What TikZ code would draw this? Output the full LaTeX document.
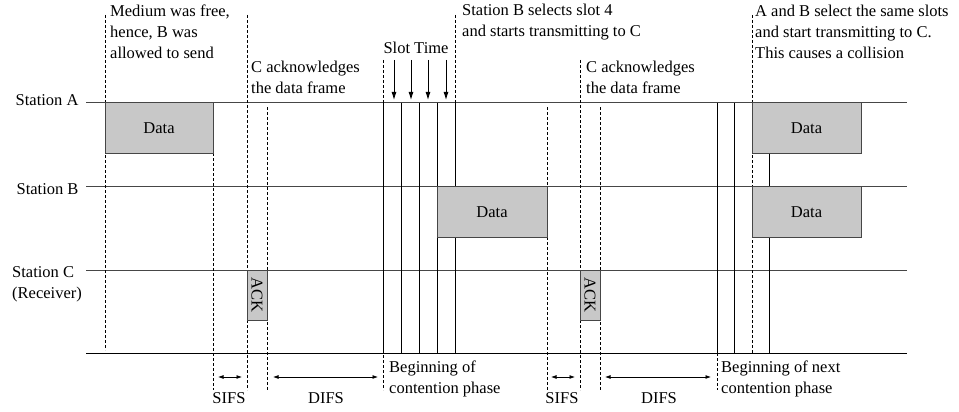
\documentclass[tikz,border=0pt]{standalone}
\usepackage{fontspec}
\setmainfont{Liberation Serif}
\usepackage{tikz}
\usetikzlibrary{arrows.meta, positioning}
\definecolor{framegray}{RGB}{200, 200, 200}
\definecolor{linegray}{RGB}{70, 70, 70}
\tikzstyle{frame} = [rectangle, draw=linegray, fill=framegray, line width=1pt, inner sep=0pt]
\tikzstyle{timeline} = [draw=linegray, line width=1pt]
\tikzstyle{guide} = [draw=black, line width=0.8pt, dash pattern=on 3pt off 2pt]
\tikzstyle{slotline} = [draw=black, line width=0.9pt]
\tikzstyle{note} = [align=left, anchor=north west, inner sep=0pt]
\tikzstyle{caption} = [anchor=north, inner sep=0pt]
\tikzstyle{span} = [{Latex[length=5.5pt,width=4pt]}-{Latex[length=5.5pt,width=4pt]}, line width=0.8pt]
\tikzstyle{slotarrow} = [-{Latex[length=8pt,width=5pt]}, line width=0.9pt]

\begin{document}
\begin{tikzpicture}[x=1pt, y=-1pt, font=\fontsize{16.5}{21}\selectfont]
    \useasboundingbox (0,0) rectangle (959,412);

    % Stations
    \node[anchor=east] (staA) at (82, 100.5) {Station A};
    \node[anchor=east] (staB) at (82, 189) {Station B};
    \node[note] (staC) at (12, 266) {Station C\\(Receiver)};

    % Time lines
    \draw[timeline] (86, 102.5) -- (907, 102.5);
    \draw[timeline] (86, 186.5) -- (907, 186.5);
    \draw[timeline] (86, 270) -- (907, 270);
    \draw[timeline, draw=black] (86, 353) -- (907, 353);

    % First transmission
    \draw[guide] (105, 15) -- (105, 350);
    \draw[guide] (213, 153) -- (213, 390);
    \draw[guide] (247, 15) -- (247, 390);
    \draw[guide] (267, 107) -- (267, 390);

    % Contention slots
    \draw[guide] (383, 60) -- (383, 390);
    \draw[guide] (455, 15) -- (455, 102.5);
    \draw[slotline] (383, 102.5) -- (383, 353);
    \draw[slotline] (401, 102.5) -- (401, 353);
    \draw[slotline] (419, 102.5) -- (419, 353);
    \draw[slotline] (437, 102.5) -- (437, 353);
    \draw[slotline] (455, 102.5) -- (455, 353);
    \draw[slotarrow] (394, 60) -- (394, 100);
    \draw[slotarrow] (411, 60) -- (411, 100);
    \draw[slotarrow] (428, 60) -- (428, 100);
    \draw[slotarrow] (446, 60) -- (446, 100);

    % Second transmission
    \draw[guide] (547, 107) -- (547, 390);
    \draw[guide] (580, 60) -- (580, 390);
    \draw[guide] (600, 107) -- (600, 390);

    % Next contention phase
    \draw[guide] (717, 353) -- (717, 390);
    \draw[slotline] (717, 102.5) -- (717, 353);
    \draw[slotline] (734, 102.5) -- (734, 353);
    \draw[slotline] (769, 153) -- (769, 353);
    \draw[guide] (752, 15) -- (752, 353);

    % Frames
    \node[frame, minimum width=108pt, minimum height=50.5pt] (dataA) at (159, 127.75) {Data};
    \node[frame, rotate=-90, minimum width=50pt, minimum height=20pt] (ackA) at (257, 295) {ACK};
    \node[frame, minimum width=110pt, minimum height=50.5pt] (dataB) at (492, 211.75) {Data};
    \node[frame, rotate=-90, minimum width=50pt, minimum height=20pt] (ackB) at (590, 295) {ACK};
    \node[frame, minimum width=109pt, minimum height=50.5pt] (collA) at (806.5, 127.75) {Data};
    \node[frame, minimum width=109pt, minimum height=50.5pt] (collB) at (806.5, 211.75) {Data};

    % Notes
    \node[note] (freeTxt) at (110, 5) {Medium was free,\\hence, B was\\allowed to send};
    \node[note] (ackTxtA) at (251, 61) {C acknowledges\\the data frame};
    \node[caption] (slotTxt) at (416, 42) {Slot Time};
    \node[note] (selTxt) at (462, 4) {Station B selects slot 4\\and starts transmitting to C};
    \node[note] (ackTxtB) at (586, 61) {C acknowledges\\the data frame};
    \node[note] (collTxt) at (755, 5) {A and B select the same slots\\and start transmitting to C.\\This causes a collision};
    \node[note] (begTxt) at (389, 361) {Beginning of\\contention phase};
    \node[note] (nextTxt) at (721, 361) {Beginning of next\\contention phase};

    % Interframe spaces
    \draw[span] (218, 377) -- (242, 377);
    \draw[span] (273, 377) -- (378, 377);
    \draw[span] (551, 377) -- (575, 377);
    \draw[span] (605, 377) -- (711, 377);
    \node[caption] (sifsA) at (229, 392) {SIFS};
    \node[caption] (difsA) at (326, 392) {DIFS};
    \node[caption] (sifsB) at (562, 392) {SIFS};
    \node[caption] (difsB) at (659, 392) {DIFS};
\end{tikzpicture}
\end{document}
